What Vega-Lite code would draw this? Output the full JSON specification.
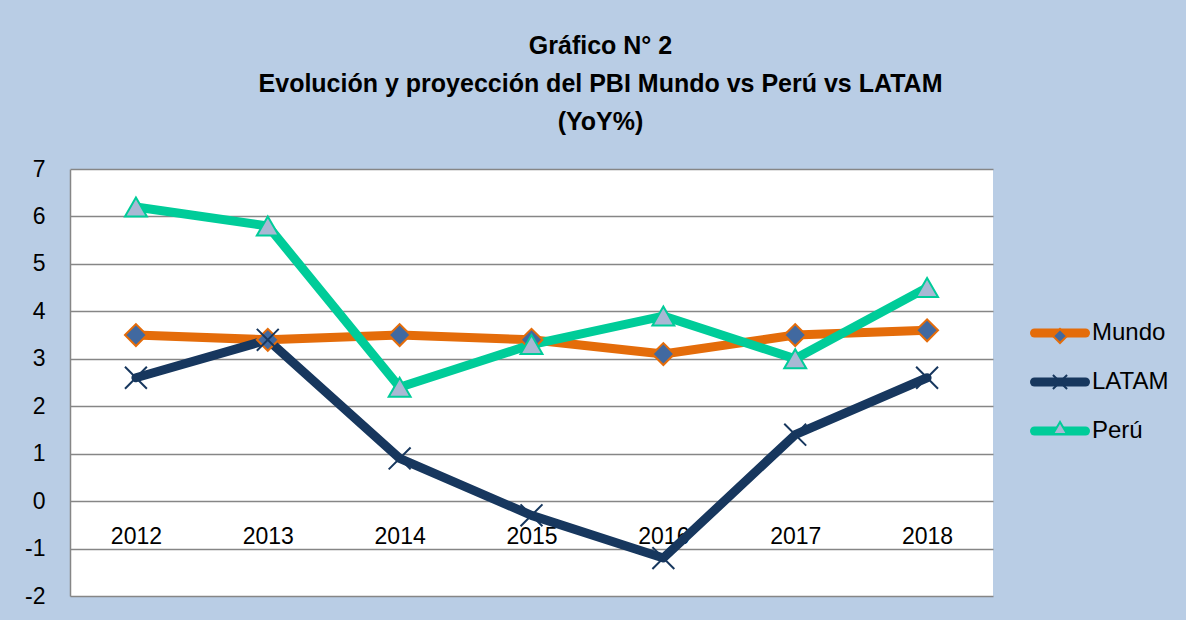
{
  "$schema": "https://vega.github.io/schema/vega-lite/v6.json",
  "width": 923,
  "height": 427,
  "autosize": {"type": "none"},
  "padding": {"left": 70, "top": 169, "right": 193, "bottom": 24},
  "background": "#B9CDE5",
  "title": {
    "text": ["Gráfico N° 2", "Evolución y proyección del PBI Mundo vs Perú vs LATAM", "(YoY%)"],
    "font": "Liberation Sans",
    "fontSize": 25,
    "fontWeight": "bold",
    "color": "#000000",
    "lineHeight": 38,
    "anchor": "middle",
    "frame": "group",
    "dx": 69,
    "offset": 23
  },
  "config": {
    "view": {"stroke": null, "fill": "#FFFFFF"},
    "font": "Liberation Sans"
  },
  "data": {
    "values": [
      {"year": "2012", "serie": "Mundo", "value": 3.5},
      {"year": "2013", "serie": "Mundo", "value": 3.4},
      {"year": "2014", "serie": "Mundo", "value": 3.5},
      {"year": "2015", "serie": "Mundo", "value": 3.4},
      {"year": "2016", "serie": "Mundo", "value": 3.1},
      {"year": "2017", "serie": "Mundo", "value": 3.5},
      {"year": "2018", "serie": "Mundo", "value": 3.6},
      {"year": "2012", "serie": "LATAM", "value": 2.6},
      {"year": "2013", "serie": "LATAM", "value": 3.4},
      {"year": "2014", "serie": "LATAM", "value": 0.9},
      {"year": "2015", "serie": "LATAM", "value": -0.3},
      {"year": "2016", "serie": "LATAM", "value": -1.2},
      {"year": "2017", "serie": "LATAM", "value": 1.4},
      {"year": "2018", "serie": "LATAM", "value": 2.6},
      {"year": "2012", "serie": "Perú", "value": 6.2},
      {"year": "2013", "serie": "Perú", "value": 5.8},
      {"year": "2014", "serie": "Perú", "value": 2.4},
      {"year": "2015", "serie": "Perú", "value": 3.3},
      {"year": "2016", "serie": "Perú", "value": 3.9},
      {"year": "2017", "serie": "Perú", "value": 3.0},
      {"year": "2018", "serie": "Perú", "value": 4.5}
    ]
  },
  "encoding": {
    "x": {
      "field": "year",
      "type": "ordinal",
      "scale": {"type": "point", "padding": 0.5},
      "axis": {
        "title": null,
        "orient": "bottom",
        "offset": -95,
        "ticks": false,
        "domain": false,
        "grid": false,
        "labelAngle": 0,
        "labelFont": "Liberation Sans",
        "labelFontSize": 23,
        "labelColor": "#000000",
        "labelPadding": 24
      }
    },
    "y": {
      "field": "value",
      "type": "quantitative",
      "scale": {"domain": [-2, 7], "nice": false, "zero": false},
      "axis": {
        "title": null,
        "values": [-2, -1, 0, 1, 2, 3, 4, 5, 6, 7],
        "labelExpr": "replace(datum.label, '−', '-')",
        "ticks": false,
        "domain": true,
        "domainColor": "#868686",
        "domainWidth": 1.5,
        "grid": true,
        "gridColor": "#868686",
        "gridWidth": 1.4,
        "labelFont": "Liberation Sans",
        "labelFontSize": 23,
        "labelColor": "#000000",
        "labelPadding": 25
      }
    }
  },
  "layer": [
    {
      "mark": {"type": "line", "strokeWidth": 9, "strokeCap": "round", "strokeJoin": "round"},
      "encoding": {
        "color": {
          "field": "serie",
          "type": "nominal",
          "scale": {"domain": ["Mundo", "LATAM", "Perú"], "range": ["#E46C0A", "#17375E", "#00CC99"]},
          "legend": {
            "title": null,
            "orient": "none",
            "legendX": 960,
            "legendY": 134,
            "symbolType": "stroke",
            "symbolSize": 2601,
            "symbolStrokeWidth": 9,
            "labelFont": "Liberation Sans",
            "labelFontSize": 24,
            "labelColor": "#000000",
            "labelOffset": 2,
            "rowPadding": 1,
            "encode": {"symbols": {"update": {"strokeCap": {"value": "round"}}}}
          }
        }
      }
    },
    {
      "mark": {"type": "point", "size": 480, "strokeWidth": 2, "opacity": 1, "fillOpacity": 1},
      "encoding": {
        "shape": {
          "field": "serie",
          "type": "nominal",
          "sort": null,
          "scale": {"range": ["diamond", "M-1,-1L1,1M-1,1L1,-1", "triangle-up"]},
          "legend": {
            "title": null,
            "orient": "none",
            "legendX": 978,
            "legendY": 155,
            "symbolSize": 200,
            "symbolStrokeWidth": 2,
            "labelExpr": "''",
            "labelFontSize": 24,
            "labelOffset": 1,
            "rowPadding": 22
          }
        },
        "fill": {
          "field": "serie",
          "type": "nominal",
          "sort": null,
          "scale": {"range": ["#4169A0", "#17375E", "#A9B8D4"]},
          "legend": {
            "title": null,
            "orient": "none",
            "legendX": 978,
            "legendY": 155,
            "symbolSize": 200,
            "symbolStrokeWidth": 2,
            "labelExpr": "''",
            "labelFontSize": 24,
            "labelOffset": 1,
            "rowPadding": 22
          }
        },
        "stroke": {
          "field": "serie",
          "type": "nominal",
          "sort": null,
          "scale": {"range": ["#E46C0A", "#17375E", "#00CC99"]},
          "legend": {
            "title": null,
            "orient": "none",
            "legendX": 978,
            "legendY": 155,
            "symbolSize": 200,
            "symbolStrokeWidth": 2,
            "labelExpr": "''",
            "labelFontSize": 24,
            "labelOffset": 1,
            "rowPadding": 22
          }
        }
      }
    }
  ]
}
